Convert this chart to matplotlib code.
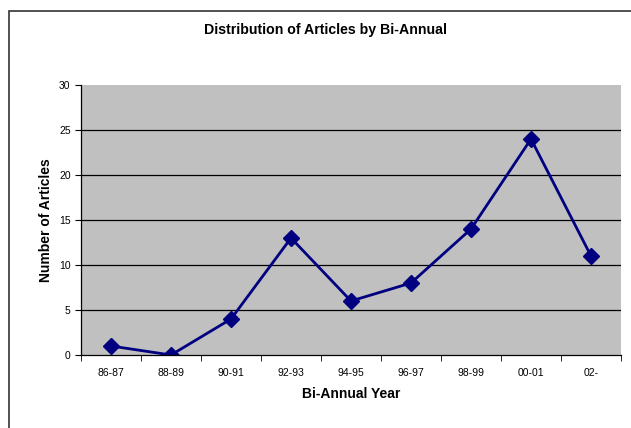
import matplotlib.pyplot as plt
from matplotlib.patches import Rectangle

plt.rcParams['font.family'] = ['Liberation Sans', 'DejaVu Sans']

periods = ['86-87', '88-89', '90-91', '92-93', '94-95', '96-97', '98-99', '00-01', '02-']
articles = [1, 0, 4, 13, 6, 8, 14, 24, 11]

fig = plt.figure(figsize=(6.31, 4.28), dpi=100)
# outer chart border (cut off at the right and bottom in the original)
fig.patches.append(Rectangle((9 / 631, -0.05), 1.0, (428 - 11) / 428 + 0.05,
                             transform=fig.transFigure, fill=False,
                             edgecolor='#333333', linewidth=1.2))

ax = fig.add_axes([81 / 631, 73 / 428, 540 / 631, 270 / 428])
ax.set_facecolor('#C0C0C0')

x = list(range(len(periods)))
ax.plot(x, articles, color='#000080', linewidth=2, marker='D', markersize=8)

ax.set_xlim(-0.5, len(periods) - 0.5)
ax.set_ylim(0, 30)
ax.set_yticks(range(0, 31, 5))
ax.set_xticks(x)
ax.set_xticklabels(periods)
ax.set_xticks([i - 0.5 for i in range(len(periods) + 1)], minor=True)
ax.tick_params(axis='x', which='major', length=0, labelsize=7.5, pad=9)
ax.tick_params(axis='x', which='minor', length=4, direction='out')
ax.tick_params(axis='y', length=4, direction='out', labelsize=7.5)

for v in range(5, 30, 5):
    ax.axhline(v, color='black', linewidth=0.9, zorder=1)

for side in ['top', 'right']:
    ax.spines[side].set_visible(False)
ax.spines['left'].set_linewidth(0.9)
ax.spines['bottom'].set_linewidth(0.9)

# title is centred on the whole chart area, not on the plot area
fig.text(326 / 631, 1 - 30 / 428, 'Distribution of Articles by Bi-Annual',
         fontsize=10.2, fontweight='bold', ha='center', va='center')
ax.set_xlabel('Bi-Annual Year', fontsize=10, fontweight='bold', labelpad=7)
ax.set_ylabel('Number of Articles', fontsize=10, fontweight='bold', labelpad=4)

fig.savefig('out.png', dpi=100)
